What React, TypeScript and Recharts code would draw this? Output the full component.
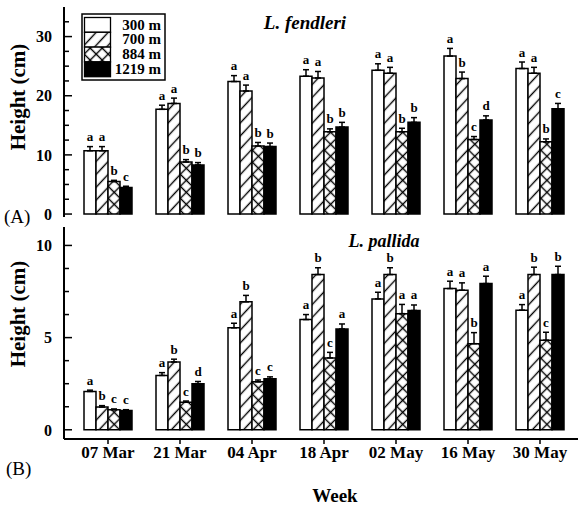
import React from "react";
import { BarChart, Bar, XAxis, YAxis, ErrorBar, LabelList } from "recharts";

const SERIF = "'Liberation Serif', 'Times New Roman', serif";

const weeks = ["07 Mar", "21 Mar", "04 Apr", "18 Apr", "02 May", "16 May", "30 May"];
const sites = ["300 m", "700 m", "884 m", "1219 m"];
const fills = ["#fff", "url(#hatch)", "url(#cross)", "#000"];

// (A) L. fendleri, mean height (cm)
const fend300 = [10.7, 17.7, 22.4, 23.3, 24.3, 26.7, 24.6];
const fend700 = [10.7, 18.7, 20.8, 23.0, 23.8, 22.9, 23.8];
const fend884 = [5.5, 8.8, 11.5, 13.9, 13.9, 12.6, 12.2];
const fend1219 = [4.5, 8.3, 11.4, 14.7, 15.5, 15.9, 17.8];
const fendErr300 = [0.7, 0.7, 1.0, 1.1, 1.1, 1.3, 1.1];
const fendErr700 = [0.7, 0.9, 1.0, 1.1, 1.0, 1.1, 1.0];
const fendErr884 = [0.2, 0.4, 0.6, 0.5, 0.6, 0.5, 0.5];
const fendErr1219 = [0.2, 0.4, 0.6, 0.8, 0.8, 0.7, 0.9];
const fendLet300 = ["a", "a", "a", "a", "a", "a", "a"];
const fendLet700 = ["a", "a", "a", "a", "a", "b", "a"];
const fendLet884 = ["b", "b", "b", "b", "b", "c", "b"];
const fendLet1219 = ["c", "b", "b", "b", "b", "d", "c"];

// (B) L. pallida
const pall300 = [2.08, 2.95, 5.53, 5.98, 7.1, 7.66, 6.49];
const pall700 = [1.23, 3.68, 6.94, 8.42, 8.42, 7.57, 8.42];
const pall884 = [1.09, 1.5, 2.6, 3.9, 6.3, 4.67, 4.86];
const pall1219 = [1.05, 2.5, 2.77, 5.47, 6.47, 7.93, 8.42];
const pallErr300 = [0.07, 0.15, 0.25, 0.27, 0.36, 0.4, 0.3];
const pallErr700 = [0.08, 0.15, 0.35, 0.37, 0.37, 0.4, 0.4];
const pallErr884 = [0.04, 0.06, 0.1, 0.3, 0.5, 0.6, 0.43];
const pallErr1219 = [0.04, 0.12, 0.1, 0.27, 0.3, 0.4, 0.45];
const pallLet300 = ["a", "a", "a", "a", "a", "a", "a"];
const pallLet700 = ["b", "b", "b", "b", "b", "a", "b"];
const pallLet884 = ["c", "c", "c", "c", "a", "b", "c"];
const pallLet1219 = ["c", "d", "c", "a", "a", "a", "b"];

const fendTicksLeft = [0, 2.5, 5, 7.5, 10, 12.5, 15, 17.5, 20, 22.5, 25, 27.5, 30, 32.5];
const fendTicksRight = [0, 2, 4, 6, 8, 10, 12, 14, 16, 18, 20, 22, 24, 26, 28, 30, 32, 34];
const pallTicks = [0, 1.25, 2.5, 3.75, 5, 6.25, 7.5, 8.75, 10];

function buildRows(values: number[][], errors: number[][], letters: string[][]) {
  return weeks.map((week, i) => {
    const row: any = { week };
    values.forEach((v, s) => {
      row[`v${s}`] = v[i];
      row[`e${s}`] = [0, errors[s][i]];
      row[`l${s}`] = letters[s][i];
    });
    return row;
  });
}

const isMajor = (v: number, step: number) => Math.abs(v / step - Math.round(v / step)) < 1e-6;

const leftTick = (step: number) => (props: any) => {
  const { x, y, payload } = props;
  const major = isMajor(payload.value, step);
  return (
    <g>
      <line x1={x + 12} x2={x + 12 + (major ? 8 : 5)} y1={y} y2={y} stroke="#000" strokeWidth={1.5} />
      {major && (
        <text x={x} y={y} dy="0.36em" textAnchor="end" fontSize={16} fontWeight={700} fontFamily={SERIF} fill="#000">
          {payload.value}
        </text>
      )}
    </g>
  );
};

const rightTick = (step: number) => (props: any) => {
  const { x, y, payload } = props;
  const len = isMajor(payload.value, step) ? 8 : 5;
  return <line x1={x - len} x2={x} y1={y} y2={y} stroke="#000" strokeWidth={1.5} />;
};

const letterLabel = (values: number[], errors: number[]) => (props: any) => {
  const vb = props.viewBox || props;
  const i = props.index;
  const v = values[i];
  const errPx = v ? (errors[i] * vb.height) / v : 0;
  return (
    <text
      x={vb.x + vb.width / 2}
      y={vb.y - errPx - 5.5}
      textAnchor="middle"
      fontSize={13}
      fontWeight={700}
      fontFamily={SERIF}
      fill="#000"
    >
      {props.value}
    </text>
  );
};

interface PanelProps {
  values: number[][];
  errors: number[][];
  letters: string[][];
  domain: [number, number];
  leftTicks: number[];
  rightTicks: number[];
  step: number;
  height: number;
  bottom: boolean;
  labelShift: number;
}

function Panel({ values, errors, letters, domain, leftTicks, rightTicks, step, height, bottom, labelShift }: PanelProps) {
  const rows = buildRows(values, errors, letters);
  const frame = { stroke: "#000", strokeWidth: 2 };
  return (
    <BarChart
      width={582}
      height={height}
      data={rows}
      margin={{ top: 7, right: 2, bottom: bottom ? 0 : 7, left: 0 }}
      barSize={12}
      barGap={0}
    >
      <XAxis
        dataKey="week"
        padding={{ left: 8, right: 4 }}
        axisLine={frame}
        height={bottom ? 68 : 0}
        tick={bottom ? { fill: "#000", fontSize: 17, fontWeight: 700, fontFamily: SERIF } : false}
        tickLine={bottom ? { stroke: "#000", strokeWidth: 1.5 } : false}
        tickSize={5}
        tickMargin={2}
        interval={0}
        label={
          bottom
            ? {
                value: "Week",
                position: "insideBottom",
                offset: 5,
                dx: 13,
                fill: "#000",
                fontSize: 19,
                fontWeight: 700,
                fontFamily: SERIF,
              }
            : undefined
        }
      />
      <XAxis xAxisId="top" orientation="top" dataKey="week" height={0} axisLine={frame} tick={false} tickLine={false} />
      <YAxis
        yAxisId="left"
        type="number"
        width={64}
        domain={domain}
        ticks={leftTicks}
        interval={0}
        allowDataOverflow
        axisLine={frame}
        tickLine={false}
        tickSize={0}
        tickMargin={12}
        tick={leftTick(step)}
        label={{
          value: "Height (cm)",
          angle: -90,
          position: "insideLeft",
          offset: 18,
          dy: labelShift,
          fill: "#000",
          fontSize: 21,
          fontWeight: 700,
          fontFamily: SERIF,
          style: { textAnchor: "middle" },
        }}
      />
      <YAxis
        yAxisId="right"
        orientation="right"
        type="number"
        width={0}
        domain={domain}
        ticks={rightTicks}
        interval={0}
        allowDataOverflow
        axisLine={false}
        tickLine={false}
        tickSize={0}
        tickMargin={0}
        tick={rightTick(step)}
      />
      {sites.map((site, s) => (
        <Bar
          key={site}
          yAxisId="left"
          dataKey={`v${s}`}
          name={site}
          fill={fills[s]}
          stroke="#000"
          strokeWidth={1.5}
          isAnimationActive={false}
        >
          <ErrorBar dataKey={`e${s}`} direction="y" width={3} stroke="#000" strokeWidth={1.5} isAnimationActive={false} />
          <LabelList dataKey={`l${s}`} content={letterLabel(values[s], errors[s])} />
        </Bar>
      ))}
    </BarChart>
  );
}

export default function App() {
  return (
    <div
      style={{
        position: "absolute",
        left: 0,
        top: 0,
        width: 578,
        height: 507,
        overflow: "hidden",
        background: "#fff",
        fontFamily: SERIF,
      }}
    >
      <svg width={0} height={0} style={{ position: "absolute" }}>
        <defs>
          <pattern id="hatch" patternUnits="userSpaceOnUse" width={10} height={8.8} patternTransform="rotate(-47)">
            <rect width={10} height={8.8} fill="#fff" />
            <line x1={0} x2={10} y1={4.4} y2={4.4} stroke="#000" strokeWidth={1.4} />
          </pattern>
          <pattern id="cross" patternUnits="userSpaceOnUse" width={8.5} height={8.5} patternTransform="rotate(45)">
            <rect width={8.5} height={8.5} fill="#fff" />
            <line x1={0} x2={8.5} y1={4.25} y2={4.25} stroke="#000" strokeWidth={1.4} />
            <line x1={4.25} x2={4.25} y1={0} y2={8.5} stroke="#000" strokeWidth={1.4} />
          </pattern>
        </defs>
      </svg>

      <div style={{ position: "absolute", left: 0, top: 0 }}>
        <Panel
          values={[fend300, fend700, fend884, fend1219]}
          errors={[fendErr300, fendErr700, fendErr884, fendErr1219]}
          letters={[fendLet300, fendLet700, fendLet884, fendLet1219]}
          domain={[-0.5, 35]}
          leftTicks={fendTicksLeft}
          rightTicks={fendTicksRight}
          step={10}
          height={224}
          bottom={false}
          labelShift={-15}
        />
      </div>
      <div style={{ position: "absolute", left: 0, top: 220 }}>
        <Panel
          values={[pall300, pall700, pall884, pall1219]}
          errors={[pallErr300, pallErr700, pallErr884, pallErr1219]}
          letters={[pallLet300, pallLet700, pallLet884, pallLet1219]}
          domain={[-0.5, 11]}
          leftTicks={pallTicks}
          rightTicks={pallTicks}
          step={5}
          height={287}
          bottom={true}
          labelShift={-19}
        />
      </div>

      {/* legend, panel titles and panel tags */}
      <svg width={578} height={507} style={{ position: "absolute", left: 0, top: 0, pointerEvents: "none" }}>
        <rect x={82} y={14} width={83} height={66} fill="#fff" stroke="#000" strokeWidth={1.5} />
        {sites.map((site, s) => (
          <g key={site}>
            <rect x={84.5} y={17.5 + s * 14.8} width={26} height={14.8} fill={fills[s]} stroke="#000" strokeWidth={1.3} />
            <text x={161} y={29.5 + s * 14.8} textAnchor="end" fontSize={15} fontWeight={700} fontFamily={SERIF} fill="#000">
              {site}
            </text>
          </g>
        ))}
        <text x={305} y={29} textAnchor="middle" fontSize={19} fontWeight={700} fontStyle="italic" fontFamily={SERIF} fill="#000">
          L. fendleri
        </text>
        <text x={384} y={247} textAnchor="middle" fontSize={18} fontWeight={700} fontStyle="italic" fontFamily={SERIF} fill="#000">
          L. pallida
        </text>
        <text x={4} y={223} fontSize={19} fontFamily={SERIF} fill="#000">
          (A)
        </text>
        <text x={6} y={475} fontSize={19} fontFamily={SERIF} fill="#000">
          (B)
        </text>
      </svg>
    </div>
  );
}
